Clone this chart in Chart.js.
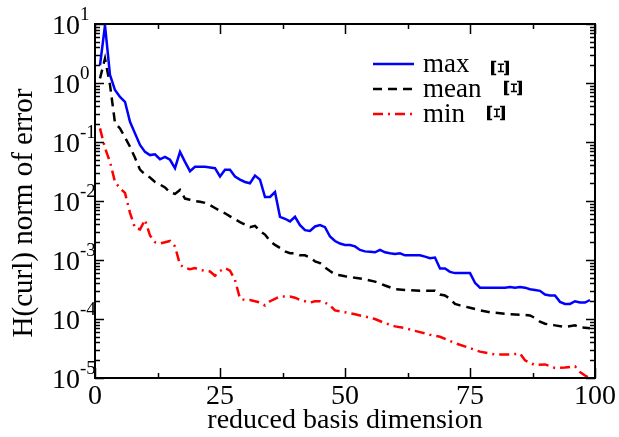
<!DOCTYPE html>
<html>
<head>
<meta charset="utf-8">
<script src="https://cdn.jsdelivr.net/npm/chart.js@4.4.1/dist/chart.umd.min.js"></script>
<style>
  body { margin: 0; background: #fff; }
  canvas { display: block; }
</style>
</head>
<body>
<canvas id="errorChart" width="619" height="437"></canvas>
<script>
// values
const maxDims = [];
for (let i = 1; i <= 99; i++) maxDims.push(i);
const maxErr = [
  2.0, 9.5, 1.37, 0.76, 0.58, 0.48, 0.22, 0.14, 0.089, 0.068,
  0.06, 0.062, 0.051, 0.056, 0.05, 0.036, 0.068, 0.046, 0.032, 0.038,
  0.038, 0.038, 0.037, 0.036, 0.026, 0.034, 0.034, 0.026, 0.023, 0.021,
  0.020, 0.027, 0.023, 0.0117, 0.0117, 0.0142, 0.0054, 0.005, 0.0045, 0.0054,
  0.0039, 0.0032, 0.0031, 0.0037, 0.0039, 0.0036, 0.0025, 0.0021, 0.0019, 0.0018,
  0.0018, 0.0017, 0.00148, 0.0014, 0.00138, 0.00135, 0.00148, 0.00135, 0.0013, 0.00126,
  0.0013, 0.0012, 0.0012, 0.0012, 0.0012, 0.00114, 0.00107, 0.0011, 0.00072, 0.00072,
  0.00063, 0.0006, 0.0006, 0.0006, 0.0006, 0.00041, 0.00034, 0.00034, 0.00034, 0.00034,
  0.00034, 0.00034, 0.00035, 0.00034, 0.00035, 0.00034, 0.00032, 0.00031, 0.0003, 0.00026,
  0.00025, 0.00025, 0.000195, 0.00018, 0.00018, 0.0002, 0.00019, 0.00019, 0.00021
];

const meanDims = [1, 2, 3, 4, 5, 6, 7, 8, 9, 10, 11, 12, 13, 14, 15, 16, 17, 18, 19, 20,
  21, 22, 23, 24, 25, 26, 27, 28, 29, 30, 31, 32, 33, 34, 35, 36, 37, 38, 39, 40,
  41, 42, 43, 44, 45, 46, 47, 48, 49, 50, 51, 52, 54, 56, 57, 58, 60, 62, 65, 68,
  69, 70, 71, 72, 73, 75, 77, 79, 83, 86, 87, 88, 89, 90, 92, 94, 96, 97, 99];
const meanErr = [1.2, 2.6, 0.93, 0.21, 0.17, 0.12, 0.083, 0.054, 0.034, 0.028,
  0.025, 0.021, 0.019, 0.017, 0.014, 0.0132, 0.0154, 0.011, 0.0105, 0.01,
  0.0097, 0.0093, 0.0085, 0.0076, 0.0068, 0.0062, 0.0055, 0.0049, 0.0044, 0.004,
  0.0036, 0.0038, 0.0031, 0.0027, 0.0021, 0.0018, 0.0016, 0.0014, 0.0013, 0.0013,
  0.0012, 0.0012, 0.0011, 0.00095, 0.00089, 0.00075, 0.00065, 0.00057, 0.00055, 0.00053,
  0.00052, 0.0005, 0.00047, 0.00043, 0.0004, 0.00037, 0.00032, 0.00031, 0.0003, 0.0003,
  0.00026, 0.00025, 0.00022, 0.00018, 0.00017, 0.000155, 0.00014, 0.00013, 0.00012, 0.000117,
  0.000115, 0.000104, 0.00009, 0.000083, 0.000078, 0.000073, 0.000078, 0.000072, 0.00007];

const minDims = [1, 2, 3, 4, 5, 6, 7, 8, 9, 10, 11, 12, 13, 14, 15, 16, 17, 18, 19, 20,
  21, 22, 23, 24, 25, 26, 27, 28, 29, 30, 31, 32, 33, 34, 35, 36, 37, 38, 39, 40,
  41, 42, 43, 44, 45, 46, 47, 48, 50, 52, 54, 56, 58, 60, 62, 64, 65, 67, 69, 72,
  75, 77, 80, 83, 85, 86, 87, 88, 90, 92, 94, 96, 97, 98, 99];
const minErr = [0.17, 0.079, 0.046, 0.021, 0.0165, 0.0137, 0.0063, 0.0035, 0.0033, 0.0048,
  0.0026, 0.002, 0.0019, 0.002, 0.0021, 0.0017, 0.00083, 0.00073, 0.0007, 0.00073,
  0.00068, 0.00066, 0.00064, 0.00054, 0.00065, 0.00073, 0.00066, 0.00046, 0.00022, 0.00021,
  0.00021, 0.0002, 0.00019, 0.00017, 0.0002, 0.00022, 0.00024, 0.00024, 0.00024, 0.00023,
  0.00021, 0.0002, 0.00019, 0.0002, 0.0002, 0.00019, 0.00017, 0.00014, 0.00013, 0.00012,
  0.00011, 0.0001, 0.000085, 0.000075, 0.00007, 0.000063, 0.00006, 0.000054, 0.00005, 0.000039,
  0.000032, 0.000028, 0.000025, 0.000025, 0.000026, 0.00002, 0.000018, 0.0000166, 0.000017, 0.0000148,
  0.000015, 0.0000158, 0.0000126, 0.000011, 0.0000098];

const yExponents = [1, 0, -1, -2, -3, -4, -5];
const xTickStep = 25;
const yTitle = 'H(curl) norm of error';

const serif = "'Liberation Serif', 'Times New Roman', serif";

function toPoints(xs, ys) {
  return xs.map((x, i) => ({ x: x, y: ys[i] }));
}

// frame, inward ticks, 10^n labels, y title and the legend are drawn here
const framePlugin = {
  id: 'framePlugin',
  afterDraw(chart) {
    const { ctx, chartArea: a, scales: { x, y } } = chart;
    ctx.save();
    ctx.strokeStyle = '#000';
    ctx.lineWidth = 1.5;
    ctx.beginPath();
    for (let e = -5; e <= 1; e++) {
      for (let m = 1; m < 10; m++) {
        if (e === 1 && m > 1) break;
        const py = Math.round(y.getPixelForValue(m * Math.pow(10, e))) + 0.5;
        const len = m === 1 ? 9 : 5;
        ctx.moveTo(a.left, py); ctx.lineTo(a.left + len, py);
        ctx.moveTo(a.right, py); ctx.lineTo(a.right - len, py);
      }
    }
    for (let v = 0; v <= 100; v += xTickStep / 2) {
      const px = Math.round(x.getPixelForValue(v)) + 0.5;
      const len = v % xTickStep === 0 ? 10 : 5;
      ctx.moveTo(px, a.bottom); ctx.lineTo(px, a.bottom - len);
      ctx.moveTo(px, a.top); ctx.lineTo(px, a.top + len);
    }
    ctx.stroke();

    ctx.lineWidth = 2;
    ctx.strokeRect(a.left, a.top, a.right - a.left, a.bottom - a.top);

    // y tick labels with superscript exponent
    ctx.fillStyle = '#000';
    ctx.textBaseline = 'alphabetic';
    yExponents.forEach(e => {
      const py = y.getPixelForValue(Math.pow(10, e));
      ctx.font = '28px ' + serif;
      ctx.textAlign = 'right';
      ctx.fillText('10', a.left - 15, py + 10);
      ctx.font = '19px ' + serif;
      ctx.textAlign = 'left';
      ctx.fillText(String(e), a.left - 15, py - 4);
    });

    // y title
    ctx.save();
    ctx.translate(24, 213);
    ctx.rotate(-Math.PI / 2);
    ctx.font = '29px ' + serif;
    ctx.textAlign = 'center';
    ctx.textBaseline = 'middle';
    ctx.fillText(yTitle, 0, 0);
    ctx.restore();

    // legend
    const rows = [
      { y: 64, xi: 497, yi: 68 },
      { y: 89, xi: 510, yi: 88 },
      { y: 114, xi: 493, yi: 113 }
    ];
    chart.data.datasets.forEach((ds, i) => {
      const r = rows[i];
      ctx.strokeStyle = ds.borderColor;
      ctx.lineWidth = ds.borderWidth;
      ctx.setLineDash(ds.borderDash || []);
      ctx.beginPath();
      ctx.moveTo(373, r.y); ctx.lineTo(414, r.y);
      ctx.stroke();
      ctx.setLineDash([]);
      ctx.fillStyle = '#000';
      ctx.font = '27px ' + serif;
      ctx.textAlign = 'left';
      ctx.textBaseline = 'middle';
      ctx.fillText(ds.label, 423, r.y + 1);
      ctx.save();
      ctx.translate(r.xi, r.yi);
      ctx.rotate(Math.PI / 2);
      ctx.font = "bold 25px 'DejaVu Serif', serif";
      ctx.textAlign = 'center';
      ctx.fillText('\u039E', 0, 0);
      ctx.restore();
    });
    ctx.restore();
  }
};

document.addEventListener('DOMContentLoaded', () => {
  const ctx = document.getElementById('errorChart');
  new Chart(ctx, {
    type: 'scatter',
    data: {
      datasets: [{
        label: 'max',
        data: toPoints(maxDims, maxErr),
        borderColor: '#0000ff',
        borderWidth: 2.5
      }, {
        label: 'mean',
        data: toPoints(meanDims, meanErr),
        borderColor: '#000000',
        borderWidth: 2.5,
        borderDash: [9, 6]
      }, {
        label: 'min',
        data: toPoints(minDims, minErr),
        borderColor: '#ff0000',
        borderWidth: 2.5,
        borderDash: [10, 5, 2, 5]
      }]
    },
    options: {
      responsive: false,
      animation: false,
      showLine: true,
      elements: { point: { radius: 0 }, line: { tension: 0 } },
      layout: { padding: { top: 24, right: 24, left: 0, bottom: 0 } },
      plugins: { legend: { display: false }, tooltip: { enabled: false } },
      scales: {
        x: {
          type: 'linear',
          min: 0,
          max: 100,
          grid: { display: false, drawTicks: false },
          border: { display: false },
          ticks: {
            stepSize: xTickStep,
            color: '#000',
            padding: 2,
            maxRotation: 0,
            font: { family: serif, size: 28 }
          },
          title: {
            display: true,
            text: 'reduced basis dimension',
            color: '#000',
            font: { family: serif, size: 28 },
            padding: { top: 0, bottom: 0 }
          },
          afterFit: scale => { scale.height = 59; }
        },
        y: {
          type: 'logarithmic',
          min: 1e-5,
          max: 10,
          grid: { display: false, drawTicks: false },
          border: { display: false },
          ticks: { display: false },
          title: { display: false },
          afterFit: scale => { scale.width = 95; }
        }
      }
    },
    plugins: [framePlugin]
  });
});
</script>
</body>
</html>
